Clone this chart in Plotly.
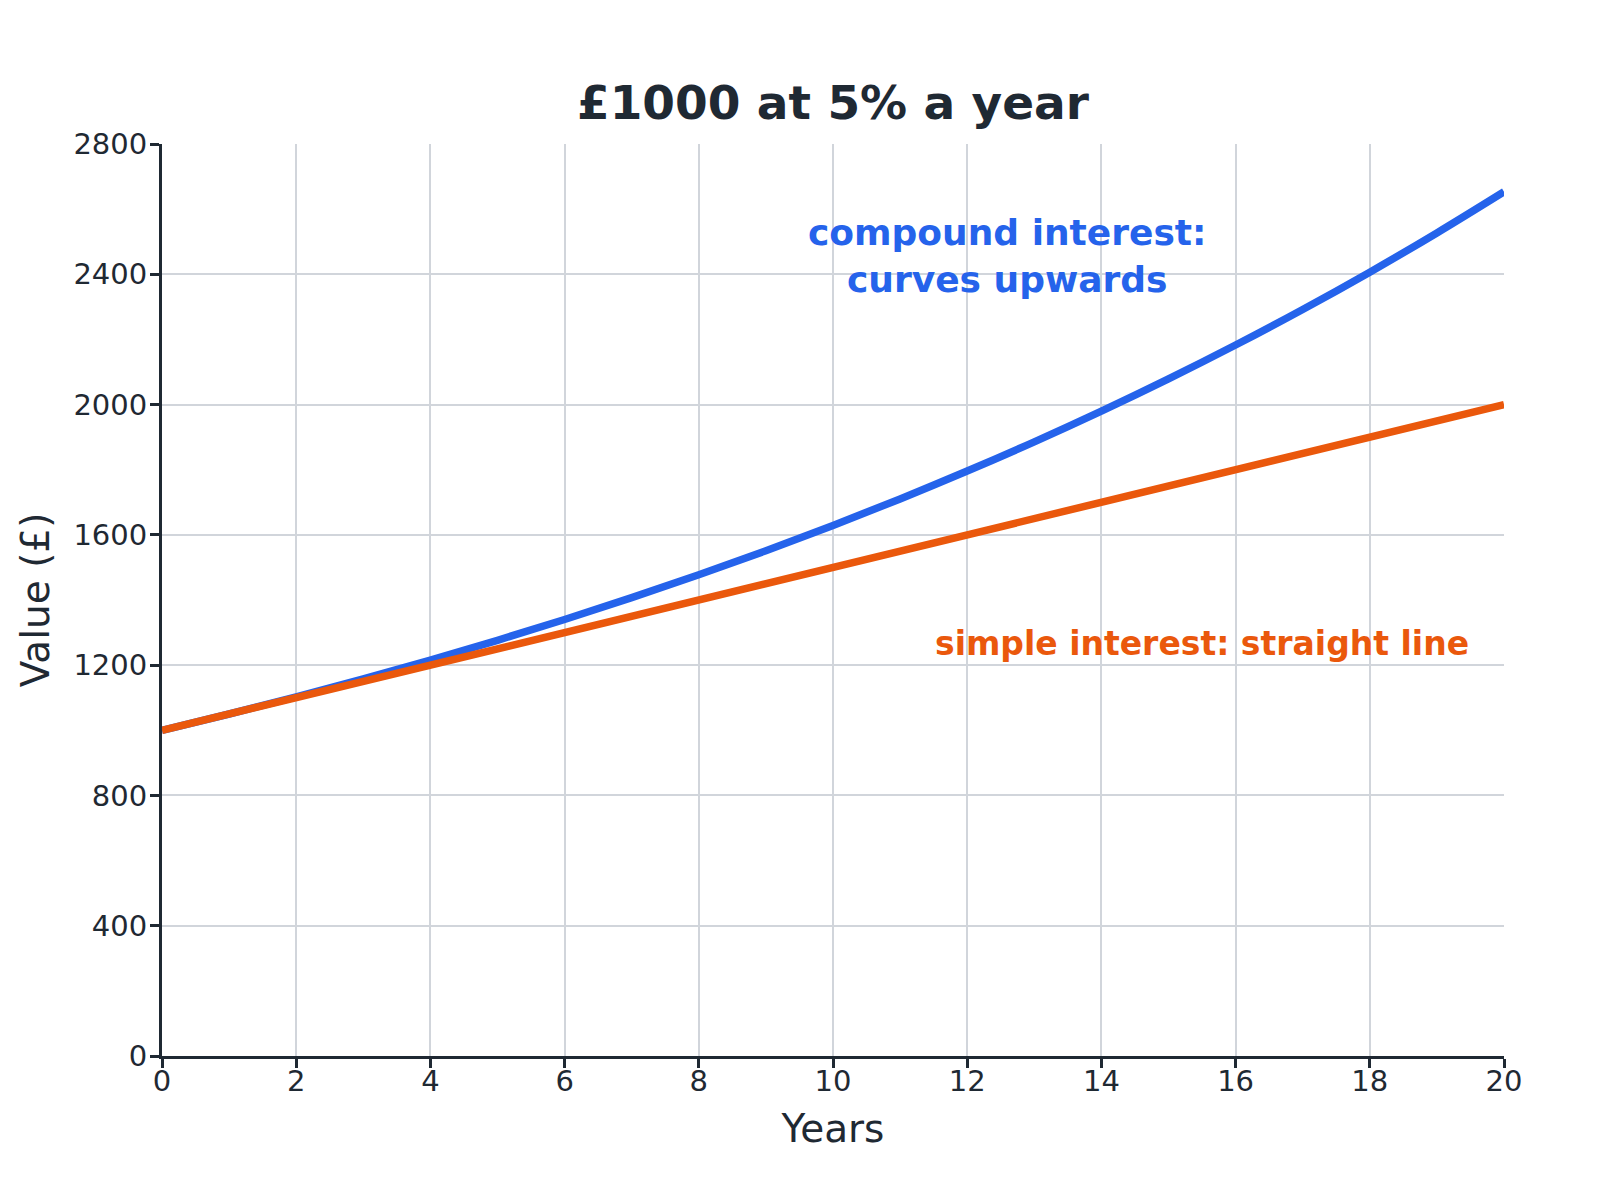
import plotly.graph_objects as go

years = list(range(0, 21))
compound = [1000.0, 1050.0, 1102.5, 1157.6, 1215.5, 1276.3, 1340.1, 1407.1, 1477.5,
            1551.3, 1628.9, 1710.3, 1795.9, 1885.6, 1979.9, 2078.9, 2182.9, 2292.0,
            2406.6, 2527.0, 2653.3]
simple = [1000, 1050, 1100, 1150, 1200, 1250, 1300, 1350, 1400, 1450, 1500,
          1550, 1600, 1650, 1700, 1750, 1800, 1850, 1900, 1950, 2000]

x_ticks = list(range(0, 21, 2))
y_ticks = list(range(0, 2801, 400))

title_text = "£1000 at 5% a year"
compound_label = "compound interest:<br>curves upwards"
simple_label = "simple interest: straight line"

BLUE = "#2563eb"
ORANGE = "#ea580c"
INK = "#1f2933"
GRID = "#d1d5db"
FONT = "DejaVu Sans"

fig = go.Figure()
fig.add_trace(go.Scatter(x=years, y=compound, mode="lines", name="compound",
                         line=dict(color=BLUE, width=7.5, shape="spline")))
fig.add_trace(go.Scatter(x=years, y=simple, mode="lines", name="simple",
                         line=dict(color=ORANGE, width=7.5)))

fig.add_annotation(x=12.6, y=2455, xref="x", yref="y", text="<b>" + compound_label + "</b>",
                   showarrow=False, font=dict(family=FONT, size=36, color=BLUE),
                   align="center")
fig.add_annotation(x=15.5, y=1265, xref="x", yref="y", text="<b>" + simple_label + "</b>",
                   showarrow=False, font=dict(family=FONT, size=33, color=ORANGE),
                   align="center")

fig.update_layout(
    width=1600, height=1200,
    paper_bgcolor="white", plot_bgcolor="white",
    margin=dict(l=154, r=104, t=136, b=152),
    showlegend=False,
    font=dict(family=FONT, color=INK),
    title=dict(text="<b>" + title_text + "</b>", x=0.5, xref="paper", xanchor="center",
               y=1 - 95 / 1200, yref="container", yanchor="middle",
               font=dict(family=FONT, size=47, color=INK)),
)
fig.update_xaxes(
    range=[0, 20], tickvals=x_ticks, ticktext=[str(v) for v in x_ticks],
    showgrid=True, gridcolor=GRID, gridwidth=1.5, zeroline=False,
    showline=True, linecolor=INK, linewidth=3,
    ticks="outside", ticklen=9, tickwidth=3, tickcolor=INK,
    ticklabelstandoff=-12,
    tickfont=dict(family=FONT, size=29, color=INK),
    title=dict(text="Years", font=dict(family=FONT, size=39, color=INK), standoff=18),
)
fig.update_yaxes(
    range=[0, 2800], tickvals=y_ticks, ticktext=[str(v) for v in y_ticks],
    showgrid=True, gridcolor=GRID, gridwidth=1.5, zeroline=False,
    showline=True, linecolor=INK, linewidth=3,
    ticks="outside", ticklen=9, tickwidth=3, tickcolor=INK,
    ticklabelstandoff=-3,
    tickfont=dict(family=FONT, size=29, color=INK),
    title=dict(text="Value (£)", font=dict(family=FONT, size=39, color=INK), standoff=12),
)

fig.write_html("out.html")
